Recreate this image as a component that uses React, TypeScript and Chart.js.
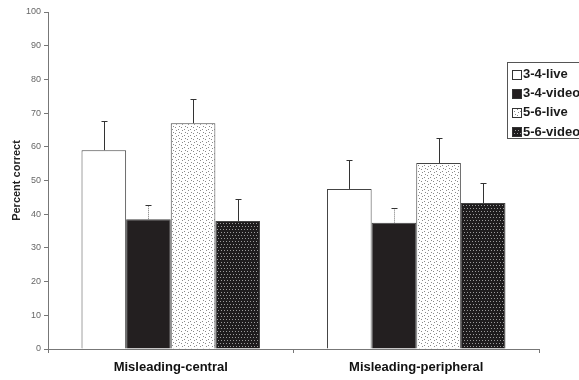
import React, { useEffect, useRef } from "react";
import { Chart, registerables } from "chart.js";
Chart.register(...registerables);

const categories = ["Misleading-central", "Misleading-peripheral"];
const seriesNames = ["3-4-live", "3-4-video", "5-6-live", "5-6-video"];
const live34 = [59, 47.5];
const video34 = [38.5, 37.5];
const live56 = [67, 55.2];
const video56 = [38, 43.3];
const err34live = [8.6, 8.7];
const err34video = [4.2, 4.2];
const err56live = [7.1, 7.3];
const err56video = [6.4, 6.1];
const yTicks = [0, 10, 20, 30, 40, 50, 60, 70, 80, 90, 100];

function makePattern(bg: string, dot: string, cells: number[][], size: number) {
  const c = document.createElement("canvas");
  c.width = size;
  c.height = size;
  const ctx = c.getContext("2d")!;
  ctx.fillStyle = bg;
  ctx.fillRect(0, 0, size, size);
  ctx.fillStyle = dot;
  cells.forEach(([x, y]) => ctx.fillRect(x, y, 1, 1));
  const tmp = document.createElement("canvas").getContext("2d")!;
  return tmp.createPattern(c, "repeat")!;
}

export default function App() {
  const ref = useRef<HTMLCanvasElement>(null);
  useEffect(() => {
    document.body.style.margin = "0";
    const lightPat = makePattern("#ffffff", "#8a8a8a", [[1, 1], [4, 3], [2, 4], [5, 0]], 6);
    const darkPat = makePattern("#1e1c1d", "#9a9a9a", [[1, 1], [4, 1], [2, 4], [5, 4]], 6);
    const values = [live34, video34, live56, video56];
    const errs = [err34live, err34video, err56live, err56video];
    const fills: any[] = ["#ffffff", "#231f20", lightPat, darkPat];

    const errorPlugin = {
      id: "errbars",
      afterDatasetsDraw(chart: any) {
        const ctx = chart.ctx;
        const y = chart.scales.y;
        chart.data.datasets.forEach((ds: any, i: number) => {
          const meta = chart.getDatasetMeta(i);
          meta.data.forEach((el: any, j: number) => {
            const top = y.getPixelForValue(values[i][j] + errs[i][j]);
            const base = y.getPixelForValue(values[i][j]);
            const x = Math.round(el.x) + 0.5;
            ctx.save();
            ctx.strokeStyle = i === 1 ? "#777" : "#333";
            ctx.lineWidth = 1;
            if (i === 1) ctx.setLineDash([1, 1]);
            ctx.beginPath();
            ctx.moveTo(x, base);
            ctx.lineTo(x, Math.round(top) + 0.5);
            ctx.stroke();
            ctx.setLineDash([]);
            ctx.strokeStyle = "#333";
            ctx.beginPath();
            ctx.moveTo(x - 3, Math.round(top) + 0.5);
            ctx.lineTo(x + 3, Math.round(top) + 0.5);
            ctx.stroke();
            ctx.restore();
          });
        });
      },
    };

    const decoPlugin = {
      id: "deco",
      afterDraw(chart: any) {
        const ctx = chart.ctx;
        const area = chart.chartArea;
        ctx.save();
        ctx.translate(17, (area.top + area.bottom) / 2);
        ctx.rotate(-Math.PI / 2);
        ctx.font = "bold 11px 'Liberation Sans', Arial, sans-serif";
        ctx.fillStyle = "#222";
        ctx.textAlign = "center";
        ctx.textBaseline = "middle";
        ctx.fillText("Percent correct", 0, 0);
        ctx.restore();

        ctx.save();
        const lx = 507.5, ly = 62.5;
        ctx.fillStyle = "#fff";
        ctx.fillRect(lx, ly, 90, 76);
        ctx.strokeStyle = "#555";
        ctx.lineWidth = 1;
        ctx.strokeRect(lx, ly, 90, 76);
        ctx.font = "bold 13px 'Liberation Sans', Arial, sans-serif";
        ctx.textBaseline = "middle";
        ctx.textAlign = "left";
        seriesNames.forEach((name, i) => {
          const cy = 74 + i * 19.2;
          const sy = Math.round(cy - 4.5) + 0.5;
          ctx.fillStyle = fills[i];
          ctx.fillRect(512.5, sy, 9, 9);
          ctx.strokeStyle = "#333";
          ctx.strokeRect(512.5, sy, 9, 9);
          ctx.fillStyle = "#1a1a1a";
          ctx.fillText(name, 523, cy + 0.5);
        });
        ctx.restore();
      },
    };

    const chart = new Chart(ref.current!, {
      type: "bar",
      data: {
        labels: categories,
        datasets: seriesNames.map((name, i) => ({
          label: name,
          data: values[i],
          backgroundColor: fills[i],
          borderColor: "#444",
          borderWidth: 1,
          categoryPercentage: 0.727,
          barPercentage: 1.0,
        })),
      },
      options: {
        animation: false,
        responsive: false,
        events: [],
        layout: { padding: { left: 0, top: 12, right: 40, bottom: 0 } },
        plugins: { legend: { display: false }, tooltip: { enabled: false } },
        scales: {
          x: {
            grid: { display: true, drawOnChartArea: false, drawTicks: true, tickLength: 4, color: "#777", offset: true },
            border: { display: true, color: "#777" },
            ticks: {
              color: "#111",
              padding: 7,
              font: { family: "'Liberation Sans', Arial, sans-serif", size: 13, weight: "bold" },
            },
            afterFit: (s: any) => { s.height = 31; },
          },
          y: {
            min: 0,
            max: 100,
            afterBuildTicks: (s: any) => { s.ticks = yTicks.map((v) => ({ value: v })); },
            grid: { display: true, drawOnChartArea: false, drawTicks: true, tickLength: 4, color: "#777" },
            border: { display: true, color: "#777" },
            ticks: {
              color: "#666",
              padding: 3,
              font: { family: "'Liberation Sans', Arial, sans-serif", size: 9 },
            },
            afterFit: (s: any) => { s.width = 48; },
          },
        },
      },
      plugins: [errorPlugin, decoPlugin],
    });
    return () => chart.destroy();
  }, []);
  return (
    <div style={{ position: "absolute", left: 0, top: 0, width: 579, height: 380, background: "#fff" }}>
      <canvas ref={ref} width={579} height={380} style={{ width: 579, height: 380, display: "block" }} />
    </div>
  );
}
